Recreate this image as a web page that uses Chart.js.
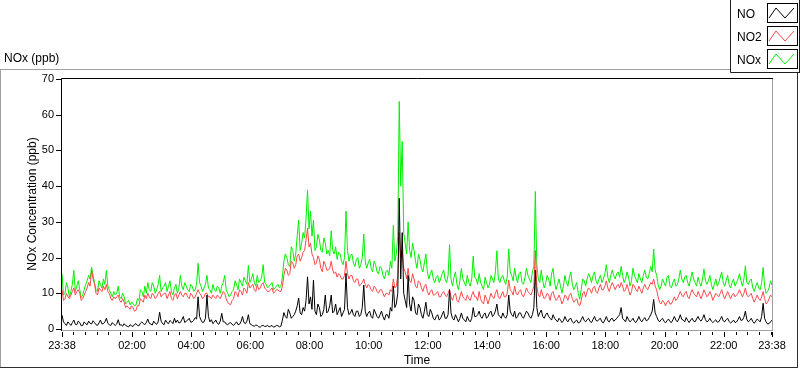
<!DOCTYPE html>
<html>
<head>
<meta charset="utf-8">
<script src="https://cdn.jsdelivr.net/npm/chart.js@4.4.0/dist/chart.umd.min.js"></script>
<style>
  html, body { margin: 0; padding: 0; background: #fff; }
  #wrap { position: relative; width: 800px; height: 369px; }
</style>
</head>
<body>
<div id="wrap"><canvas id="grafico" width="800" height="369"></canvas></div>
<script>
// NOx ao longo de 24h (23:38 -> 23:38), um ponto a cada 3 min
// (cada linha = 1 hora)
const passoMin = 3;

const nox = [
  15.5,9.5,10,13,11.5,9,10.5,12.5,16.4,10.5,12,13.5,11,8.8,9.5,11,12.5,13.5,15,14,
  17.3,15,13,11,10.5,13.5,12.5,11.5,14,12.5,16.4,12,11,10,9,10.5,9.5,10,12,9,
  8.5,10,9,7,7.5,8,6.8,7.5,7.2,6.5,6.7,8.5,8,11,10.5,9,12,10,13,11,
  10.5,13,12,10,11,12.5,15,10.5,11.5,12,13,10.5,12,13.5,10.5,9.5,11.5,12.5,10,11.5,
  15,12,11,13,12,11,10.5,12.5,12,10.5,11,12.5,18.4,13,12,10.5,11.5,12.5,15,11.5,
  11,10,12.5,11,10.5,12,11.5,10,12,13,15,11,10,9,9.5,10.5,11,13.5,12.5,11,
  14,13,12,14.5,13.5,12.5,17.8,13,14,15.5,13,12,15,13,13.5,14.5,18,13,12.5,11.5,
  12,12.5,13,11,11.5,12,12.5,11.5,12,14.5,19,21,20,18,17.5,23,22,19,21,26,
  30.5,22,24,27,25.5,31,38.9,28,33,26,30.5,22,23,26.5,25,22,21.5,25.5,24,21,
  22,20.5,27.5,22,21,23,19.5,21.5,21,19,18,20,33,22,19,20.5,21,18.5,17.5,19.5,
  20,17,18,20,26.6,19,17,18.5,19.5,17,16,19,18,16,15.5,17.5,17,15,14,16,
  16.5,15,19,17,29,19,21,26,63.7,40,52.5,27,24,21,30,22,20,24,22,19,
  17,21,19.5,17,16,18.5,21,16,14,15.5,16.5,14,13,14.5,15,13,14,15.5,16.5,14,
  13,15,23.6,14,12,14.5,16,12.5,11,13.5,17,14,13,12,15,13,12,14,20.4,14.5,
  14,12.5,15.5,13,12,11,14.5,13,11.5,12.5,15,14,13,16,21.9,14,13,14.5,15,13.5,
  12.5,14.5,22.4,16,15,13.5,17,14.5,13,15.5,16,13,12.5,14.5,17,15,14,13,16,17.5,
  38.5,18,14,13,16.5,13.5,11.5,13,15,14,12,15.5,17,13,11,12.5,14,12,10,12,
  15,13,12,14.5,16,12.5,11,12,13,10,8.3,11,14,13.5,12,14,15.5,14.5,13,15,
  16,13.5,12.5,14,15,13,14,15.5,18,14.5,13,15,16.5,15,14,15.5,16,14.5,17.5,15,
  13,14,16,14.5,12,13.5,17,15,14,13,15.5,14,13,15,16.5,14.5,14,15.5,17.5,16,
  22.4,16.5,15,12.5,11,12,14,13,12,14.5,15,12,11.5,13,14,12,12.5,14,16.5,14,
  13,14.5,15,13,12,14,16,14,13,12,14.5,13,12,14,16.8,13.5,12.5,13.5,15,12.5,
  11,12.5,14,12,13,14.5,16,13,12,13.5,15,12.5,11.5,13,14,12,13,14,15.5,13.5,
  12,14,17.7,13,12.5,13.5,14,11.5,10.5,12,13,11.5,11,13,17.2,12,10,10.5,11.5,13.5,
  12.3];

const no2 = [
  11,8,8.5,10,9,8.5,9.5,10.5,11.5,9.5,10.5,11,10,8,8.5,9.5,10.5,11.5,13,12,
  16.5,14,12.5,10,9.5,11.5,11,10.5,12,11,12.5,10.5,10,8.5,8,9,8.5,9,9.5,8,
  7.5,8.5,7.5,6,6.5,6,5.5,6.5,6,5,5.2,6.5,6.5,8.5,8,7.5,9.5,8.5,10,9,
  8.5,10,9.5,8.5,9,10,10.5,9,9.5,10,10,8.5,9.5,10.5,8.5,8,9.5,10,8.5,9.5,
  10.5,9.5,9,10,10,9,8.5,10,9.5,8.5,9,10,11,10,9.5,8.5,9,10,10,9,
  9,8.5,9.5,9,8.5,9.5,9,8.5,9.5,10.5,10,8.5,7.5,7,6.8,8,8.5,10.5,10,9,
  11,10.5,9.5,11.5,11,10,13,11.5,12,12.5,11,10.5,12.5,11,11.5,12.5,13,11.5,11,10.5,
  10.5,11,11.5,10,10.5,11,11,10.5,10.5,12,15,17,16.5,15,15.5,19,18.5,17,18,20.5,
  21,19,20,21.5,22,25,28.2,23,24,21,20,18,18.5,20.5,19.5,17,16,19,18,16.5,
  16.5,17,19,16.5,15.5,16,14.5,15.5,15,14,14,15,19,15.5,14,15,15,13.5,13,14,
  14,12,12.5,13,14,12.5,11.5,12.5,12,11,10.5,12,11.5,10.5,10,11,11,10,9,10,
  10,9.5,11,10.5,14,11.5,12,15,27,20,22,17,16,14,17,13.5,13,15.5,14,12,
  11.5,13.5,13,11.5,10.5,12,12.5,10.5,9.5,10.5,11,9.5,9.5,10,10.5,9,9,10,10.5,9.5,
  9,10,11,9,8,9.5,10,8,7.5,9,10.5,9,8.5,8,9.5,8.5,8,9.5,10.5,9,
  9,8,10.5,8.5,7.5,7,9.5,8.5,7,8.5,10,9,8.5,10,11,9,8.5,9.5,10.5,9,
  9,10,13.7,11,10.5,9.5,12,10,9.5,10.5,11,9.5,9,10,11.5,10.5,10,9.5,10.5,12,
  22,12,9.5,9,11,9.5,8.5,9,10,9.5,8,10,10.5,9,8,8.5,9.5,8.5,7,8,
  9.5,9,8,9.5,10,8.5,7.5,8,8.5,7,6.5,8,10,10.5,9,10.5,11.5,11,10,11.5,
  12,10.5,10,11.5,12.5,11,11,12,13.5,11.5,10.5,12,13,12,11,12,12.5,11.5,13,12,
  10.5,11,12.5,11,9.5,10.5,12.5,12,11,10.5,12,11,10,11.5,12.5,11.5,11,12,13,12.5,
  14,12,11,9,7.5,7,8,7.5,6.5,7.5,8,7,7,8,9,8,8.5,9.5,10.5,9.5,
  9,10,10.5,9,8.5,10,11,10,9.5,9,10.5,9.5,8.5,9.5,11,10,9,9.5,10.5,9.5,
  8,9,10,9.5,9,10,11,9.5,8.5,9.5,10.5,9.5,8.5,9.5,10,9,9.5,10,11,10,
  9,10,11.5,9.5,9,9.5,10,8.5,7.5,8.5,9.5,8.5,8,9,10.5,8.5,7,7.5,8.5,9.5,
  9];

const no = [
  3.9,2,1.5,1,2,1.5,1,1.8,2.5,1.3,1.2,2.2,1.8,0.9,1,2,1.5,1.2,2.2,1.6,
  1.4,2.3,1.8,1.2,1,1.7,2.5,1.4,1.5,2,3,1.6,1.2,1,1.8,1.3,1,1.4,2.6,1.1,
  1.2,0.8,1.5,1,0.8,0.6,1.2,0.9,0.7,1.3,1.5,1,0.9,1.6,2,1.5,1.2,1.8,2.8,1.6,
  1.4,1.1,2.2,1.6,1.3,2,4.7,2.2,1.5,1.2,2.5,1.8,1.5,2.4,2,1.5,3,1.8,2.5,1.7,
  1.8,2.6,3.5,1.8,2.2,2.5,3,1.9,2,2.4,3.2,2.8,9,3.5,2.5,1.8,2,3,9.5,3.5,
  2,2.6,1.5,1.9,2.5,1.6,1.3,2.2,4.4,2,2,1.4,1.2,1.6,1.8,1.3,1,1.5,2,1.2,
  1.3,2,3.5,1.8,1.5,2.2,4,1.5,1.2,0.9,0.8,1.1,1,0.6,0.5,0.9,1,0.7,0.8,1,
  0.6,0.8,1,0.5,0.7,1,0.9,0.6,0.8,2.5,4.6,3.5,3,5.5,4.5,3,3.5,4,5,6.5,
  8.7,4.5,4,6,5,8,14.6,7,9,5.5,13.7,5,4,7,6,3.5,4,5.5,9.5,4.5,
  5,6.5,9.5,4.5,5,7,4,5,6,3.5,4.5,5.5,15.6,6,4,4.5,5.5,4,3.5,5,
  5,3.5,4,6,12.3,5,3.5,4.5,5,3.5,3,5.5,4.5,3.5,3,4,5,3.5,2.5,4,
  4,3,6,5,12,6,7,10,36.6,14,27,10,8,6,15,7,5,9,8,4.5,
  4,7,6,4,3,5,7.5,4,3.5,5.5,4.5,3,2.5,3.5,4,2.5,3,4,5,3,
  3,4,11,4.5,3,2.5,4,3,2,3,4.5,3,2.5,2,3.5,2.5,2,3,6,3.5,
  3.5,4,5,3.5,3,4,4.5,3,3.5,4.5,5,3.5,4,5,7,4,3.5,3,4.5,3.5,
  3,4,9.5,5,4,3.5,5,3,3.5,4.5,4.5,3.5,3,4,5,4.5,3.5,3,4,6,
  16.5,6,3.5,4.5,5.3,3.5,3,4,4.5,3.5,3,2.5,4,3,2.5,2,3,2.5,1.8,2.3,
  3.5,2.5,2,2.8,3,2,1.6,2.2,2.5,1.7,1.8,2.6,3.5,2.4,2,2.6,3,2.1,1.8,2.7,
  3.5,2.4,2.2,2.7,3,2,1.7,2.5,3.5,2.3,2,2.8,3,2.2,2.5,3,3.5,4,6,3,
  2.5,2,3.5,2.6,2,2.4,3,2.1,1.8,2.5,3.5,2.5,2,2.7,3.2,2.3,2.5,3.2,4,5,
  8.3,4.5,3.5,2.5,2,2.6,3,2.2,1.7,2.3,2.8,2.1,1.8,2.6,3.5,2.5,2,2.8,4,2.7,
  2.5,2,3.2,2.4,1.8,2.5,3,2.2,2,2.8,3.5,2.6,2.2,2.9,4,2.6,2,2.3,3,2.2,
  1.8,2.2,2.6,1.9,2,2.7,3.5,2.3,2,2.6,3,2.1,1.7,2,2.5,1.8,2,2.6,3.5,2.4,
  2.5,3.3,5,2.7,2,2.4,3,2.1,1.6,2.2,2.8,2.4,2,3.5,7.2,3,2,1.4,1.5,2,
  2.5];

// eixo X: minutos desde 23:38
const xTickMin = [0,142,262,382,502,622,742,862,982,1102,1222,1342,1440];
const xTickLabels = ['23:38','02:00','04:00','06:00','08:00','10:00','12:00','14:00','16:00','18:00','20:00','22:00','23:38'];
const yTicks = [0,10,20,30,40,50,60,70];

const seriesNomes = ['NO','NO2','NOx'];
const seriesCores = ['#000000','#ff4848','#00f000'];

const FONTE = '"Liberation Sans", Arial, sans-serif';

function pontos(valores) {
  return valores.map((v, i) => ({ x: i * passoMin, y: v }));
}

// ----------------------------------------------------
//  moldura, ticks menores e legenda estilo LabVIEW
// ----------------------------------------------------
const moldura = {
  id: 'moldura',
  afterDraw(chart) {
    const { ctx, chartArea: a, scales: { x, y } } = chart;
    ctx.save();
    ctx.lineWidth = 1;

    // painel externo
    ctx.strokeStyle = '#a0a0a0';
    ctx.beginPath();
    ctx.moveTo(0, 69.5); ctx.lineTo(730, 69.5);
    ctx.moveTo(0.5, 69.5); ctx.lineTo(0.5, 368);
    ctx.stroke();
    ctx.strokeStyle = '#303030';
    ctx.beginPath();
    ctx.moveTo(0, 367.5); ctx.lineTo(798, 367.5);
    ctx.moveTo(797.5, 72); ctx.lineTo(797.5, 368);
    ctx.stroke();

    // borda da area de plotagem
    ctx.strokeStyle = '#a0a0a0';
    ctx.beginPath();
    ctx.moveTo(a.right + 0.5, a.top - 1); ctx.lineTo(a.right + 0.5, a.bottom + 1.5);
    ctx.moveTo(a.left, a.bottom + 1.5); ctx.lineTo(a.right + 1, a.bottom + 1.5);
    ctx.stroke();
    ctx.strokeStyle = '#000';
    ctx.beginPath();
    ctx.moveTo(a.left - 0.5, a.top - 0.5); ctx.lineTo(a.right + 1, a.top - 0.5);
    ctx.moveTo(a.left - 0.5, a.top - 0.5); ctx.lineTo(a.left - 0.5, a.bottom + 2);
    ctx.stroke();

    // ticks do eixo Y
    ctx.beginPath();
    yTicks.forEach(v => {
      const py = Math.round(y.getPixelForValue(v)) + 0.5;
      ctx.moveTo(a.left - 6, py); ctx.lineTo(a.left - 1, py);
    });
    // ticks do eixo X (maiores e menores)
    xTickMin.forEach(v => {
      const px = Math.round(x.getPixelForValue(v)) + 0.5;
      ctx.moveTo(px, a.bottom + 3); ctx.lineTo(px, a.bottom + 8);
    });
    for (let m = 22; m < 1440; m += 24) {
      const px = Math.round(x.getPixelForValue(m)) + 0.5;
      ctx.moveTo(px, a.bottom + 3); ctx.lineTo(px, a.bottom + 6);
    }
    ctx.stroke();

    // titulo do painel
    ctx.fillStyle = '#000';
    ctx.font = '12px ' + FONTE;
    ctx.textAlign = 'left';
    ctx.textBaseline = 'alphabetic';
    ctx.fillText('NOx (ppb)', 4, 62);

    // legenda
    ctx.fillStyle = '#fff';
    ctx.fillRect(730, 0, 70, 72);
    ctx.strokeStyle = '#202020';
    ctx.beginPath();
    ctx.moveTo(730.5, 0); ctx.lineTo(730.5, 72.5); ctx.lineTo(800, 72.5);
    ctx.moveTo(799.5, 0); ctx.lineTo(799.5, 72.5);
    ctx.stroke();
    ctx.font = '12px ' + FONTE;
    seriesNomes.forEach((nome, i) => {
      const dy = i * 23;
      ctx.fillStyle = '#000';
      ctx.fillText(nome, 737, 18 + dy);
      ctx.strokeStyle = '#000';
      ctx.strokeRect(767.5, 3.5 + dy, 30, 19);
      ctx.strokeStyle = seriesCores[i];
      ctx.beginPath();
      ctx.moveTo(769, 18 + dy); ctx.lineTo(776, 8 + dy);
      ctx.lineTo(785, 18 + dy); ctx.lineTo(794, 8 + dy);
      ctx.stroke();
    });
    ctx.restore();
  }
};

const chart = new Chart(document.getElementById('grafico'), {
  type: 'line',
  data: {
    datasets: seriesNomes.map((nome, i) => ({
      label: nome,
      data: pontos([no, no2, nox][i]),
      borderColor: seriesCores[i],
      borderWidth: 1,
      pointRadius: 0,
      tension: 0,
      fill: false
    }))
  },
  options: {
    responsive: false,
    animation: false,
    layout: { padding: { left: 0, top: 79, right: 28, bottom: 0 } },
    plugins: { legend: { display: false }, tooltip: { enabled: false } },
    scales: {
      x: {
        type: 'linear',
        min: 0,
        max: 1440,
        afterBuildTicks: s => { s.ticks = xTickMin.map(v => ({ value: v })); },
        afterFit: s => { s.height = 40; s.paddingLeft = 0; s.paddingRight = 0; },
        ticks: {
          autoSkip: false, maxRotation: 0, padding: 10, color: '#000',
          font: { family: FONTE, size: 11 },
          callback: (v, i) => xTickLabels[i]
        },
        grid: { display: false, drawTicks: false },
        border: { display: false },
        title: { display: true, text: 'Time', color: '#000', font: { family: FONTE, size: 12 }, padding: { top: 0, bottom: 1 } }
      },
      y: {
        min: 0,
        max: 70,
        afterBuildTicks: s => { s.ticks = yTicks.map(v => ({ value: v })); },
        afterFit: s => { s.width = 62; s.paddingTop = 0; s.paddingBottom = 0; },
        ticks: { padding: 8, color: '#000', font: { family: FONTE, size: 11 } },
        grid: { display: false, drawTicks: false },
        border: { display: false },
        title: { display: true, text: 'NOx Concentration (ppb)', color: '#000', font: { family: FONTE, size: 12 }, padding: { top: 25, bottom: 0 } }
      }
    }
  },
  plugins: [moldura]
});
</script>
</body>
</html>
